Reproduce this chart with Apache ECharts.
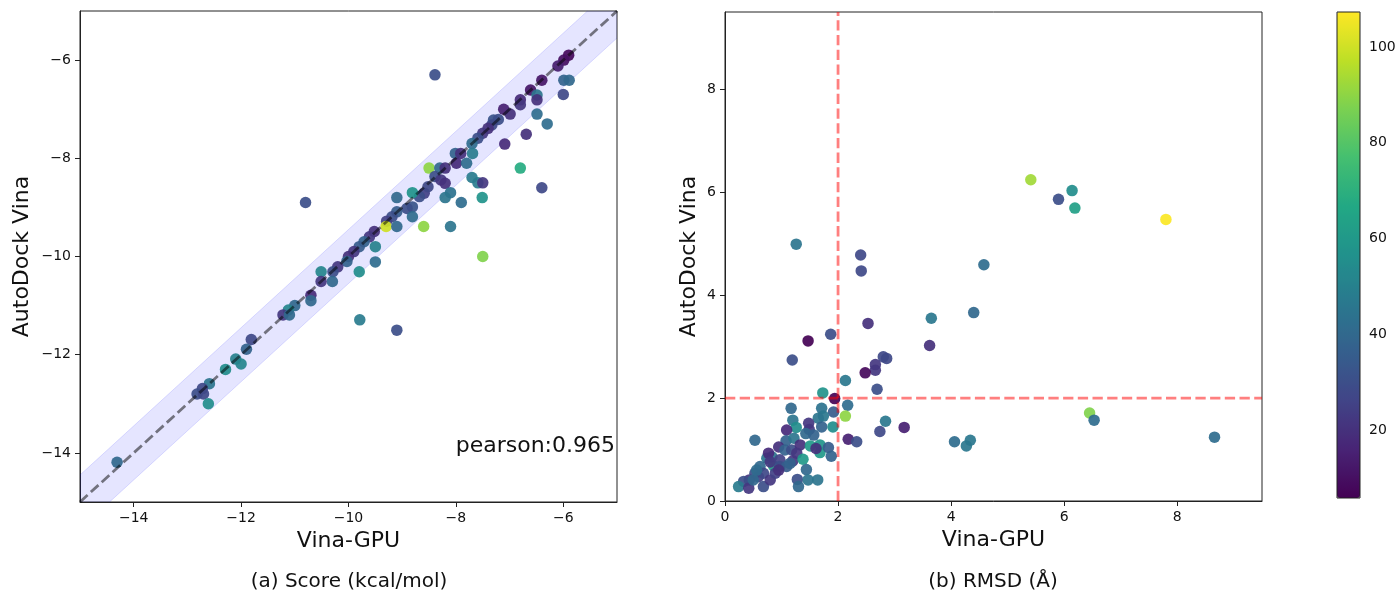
<!DOCTYPE html>
<html><head><meta charset="utf-8">
<script src="https://cdn.jsdelivr.net/npm/echarts@6/dist/echarts.min.js"></script>
<style>html,body{margin:0;padding:0;background:#fff}#c{width:1400px;height:596px}</style>
</head><body><div id="c"></div>
<script>
// ---- Data: (a) Score (kcal/mol) ----
const scoreVinaGPU = [-5.90,-5.99,-6.10,-5.99,-5.89,-6.00,-6.40,-6.61,-6.49,-6.49,-6.80,-6.80,-6.49,-6.30,-6.69,-7.09,-7.11,-6.99,-7.30,-7.21,-7.33,-7.40,-7.50,-7.59,-7.70,-7.69,-8.01,-7.91,-7.99,-7.80,-8.50,-8.30,-8.20,-8.39,-8.28,-8.20,-7.70,-7.59,-7.50,-6.80,-6.40,-7.51,-8.10,-8.20,-7.90,-8.59,-8.68,-8.52,-8.81,-9.10,-8.81,-8.91,-8.81,-9.10,-9.19,-9.29,-9.30,-9.10,-8.60,-8.10,-10.80,-8.39,-7.50,-9.52,-9.61,-9.50,-9.71,-9.80,-9.90,-10.00,-9.50,-10.03,-9.80,-10.20,-10.29,-10.30,-10.51,-10.51,-10.70,-10.70,-11.00,-11.12,-11.22,-11.10,-9.79,-9.10,-11.81,-11.90,-12.10,-12.00,-12.29,-12.59,-12.72,-12.82,-12.70,-12.61,-14.31];
const scoreAutoDock = [-5.90,-6.00,-6.12,-6.41,-6.41,-6.70,-6.41,-6.61,-6.71,-6.81,-6.81,-6.91,-7.10,-7.30,-7.51,-7.71,-7.00,-7.10,-7.22,-7.21,-7.32,-7.39,-7.49,-7.59,-7.70,-7.90,-7.90,-7.90,-8.10,-8.10,-8.20,-8.20,-8.20,-8.37,-8.44,-8.51,-8.39,-8.50,-8.50,-8.20,-8.60,-8.80,-8.70,-8.80,-8.90,-8.71,-8.78,-8.58,-8.70,-8.80,-8.99,-9.02,-9.19,-9.09,-9.19,-9.28,-9.39,-9.39,-9.39,-9.39,-8.90,-6.30,-10.00,-9.49,-9.60,-9.80,-9.70,-9.80,-9.90,-10.00,-10.11,-10.10,-10.31,-10.21,-10.31,-10.51,-10.31,-10.51,-10.79,-10.90,-11.00,-11.09,-11.19,-11.19,-11.29,-11.50,-11.69,-11.89,-12.09,-12.19,-12.30,-12.59,-12.69,-12.80,-12.80,-13.00,-14.19];
const scoreColor = [8,10,14,38,40,28,12,12,45,20,18,22,42,42,20,18,15,20,32,30,28,20,22,30,42,48,38,20,18,42,90,40,20,30,22,20,48,48,22,68,28,58,44,45,42,25,30,28,58,40,32,30,42,35,30,25,100,40,90,45,30,30,88,20,22,50,38,35,22,20,42,38,55,22,30,40,52,22,18,40,40,52,22,40,48,30,28,38,50,52,55,45,28,30,28,55,40];

// ---- Data: (b) RMSD (Å) ----
const rmsdVinaGPU = [1.26,2.40,2.41,4.58,3.65,4.40,2.53,1.47,1.87,3.62,1.19,2.80,2.86,2.66,2.66,2.48,2.69,2.13,1.73,1.94,2.17,2.13,1.92,1.17,1.71,1.74,1.65,1.20,1.26,1.09,1.48,1.49,1.43,1.57,1.71,1.91,2.18,2.33,2.84,2.74,3.17,4.06,4.27,4.34,0.53,1.08,1.22,0.95,1.06,1.18,1.33,1.27,1.20,1.38,1.51,1.68,1.68,1.83,1.88,1.61,1.44,1.28,1.30,1.47,1.64,0.74,0.86,0.83,0.77,0.80,0.97,0.97,1.09,1.15,0.62,0.53,0.59,0.68,0.43,0.33,0.24,0.42,0.68,0.80,0.89,0.95,0.50,0.56,5.41,5.90,6.14,6.19,7.80,6.45,6.53,8.66];
const rmsdAutoDock = [4.99,4.78,4.47,4.59,3.55,3.66,3.45,3.11,3.24,3.02,2.74,2.80,2.77,2.65,2.54,2.49,2.17,2.34,2.10,1.99,1.86,1.65,1.73,1.80,1.80,1.65,1.61,1.57,1.43,1.38,1.51,1.39,1.31,1.28,1.44,1.44,1.20,1.15,1.55,1.35,1.43,1.15,1.07,1.18,1.18,1.17,1.22,1.05,0.99,0.99,1.09,0.93,0.78,0.81,1.07,1.09,0.94,1.04,0.87,1.02,0.61,0.42,0.28,0.41,0.41,0.83,0.68,0.86,0.93,0.76,0.80,0.67,0.67,0.73,0.67,0.54,0.47,0.54,0.41,0.38,0.28,0.25,0.28,0.41,0.54,0.60,0.41,0.60,6.24,5.86,6.03,5.69,5.47,1.71,1.57,1.24];
const rmsdColor = [45,28,28,42,46,40,20,6,30,20,30,28,28,22,22,8,30,46,58,6,42,90,35,40,44,46,45,45,55,18,22,22,40,38,38,55,15,30,46,28,15,42,46,46,40,38,45,20,38,30,20,22,22,60,60,58,60,35,38,20,40,30,40,45,45,45,62,45,18,22,25,30,35,38,40,30,25,28,22,30,48,22,30,22,25,20,40,42,93,30,55,63,107,88,42,42];

// ---- Axes / reference values ----
const scoreRange = [-15, -5];
const scoreTicks = [-14, -12, -10, -8, -6];
const rmsdRange = [0, 9.5];
const rmsdTicks = [0, 2, 4, 6, 8];
const colorRange = [5.8, 107.3];
const colorbarTicks = [20, 40, 60, 80, 100];
const bandHalfWidth = 0.55;
const rmsdThreshold = 2;
const pearsonText = 'pearson:0.965';
const viridis = ['#440154','#482475','#414487','#355f8d','#2a788e','#21918c','#22a884','#44bf70','#7ad151','#bddf26','#fde725'];

const FONT = 'DejaVu Sans';
const DASH = [10.3, 4.4];
const minus = v => String(v).replace('-', '\u2212');
const zip3 = (a, b, c) => a.map((v, i) => [v, b[i], c[i]]);

function valueAxis(gridIndex, range, ticks, extra) {
  return Object.assign({
    type: 'value', gridIndex, min: range[0], max: range[1],
    axisLine: { show: true, onZero: false, lineStyle: { color: '#222', width: 1 } },
    axisTick: { show: true, inside: false, length: 5, customValues: ticks, lineStyle: { color: '#222', width: 1 } },
    axisLabel: { show: true, customValues: ticks, margin: 9, color: '#111', fontFamily: FONT, fontSize: 14, formatter: minus },
    splitLine: { show: false },
    nameLocation: 'middle',
    nameTextStyle: { fontFamily: FONT, fontSize: 22, color: '#111' }
  }, extra || {});
}

// band |y - x| <= h inside the square plot range (data coordinates)
const lo = scoreRange[0], hi = scoreRange[1], h = bandHalfWidth;
const bandPolygon = [[lo, lo], [lo, lo + h], [hi - h, hi], [hi, hi], [hi, hi - h], [lo + h, lo]];
const bandUpper = [[lo, lo + h], [hi - h, hi]];
const bandLower = [[lo + h, lo], [hi, hi - h]];

const chart = echarts.init(document.getElementById('c'), null, { renderer: 'canvas' });
chart.setOption({
  animation: false,
  backgroundColor: '#fff',
  grid: [
    { left: 80, top: 11, width: 537, height: 491, show: true, borderColor: '#222', borderWidth: 1, backgroundColor: 'transparent' },
    { left: 725, top: 12, width: 537, height: 489, show: true, borderColor: '#222', borderWidth: 1, backgroundColor: 'transparent' },
    { left: 1337, top: 12, width: 23, height: 486, show: true, borderColor: '#222', borderWidth: 1, backgroundColor: 'transparent', z: 10 }
  ],
  xAxis: [
    valueAxis(0, scoreRange, scoreTicks, { name: 'Vina-GPU', nameGap: 27 }),
    valueAxis(1, rmsdRange, rmsdTicks, { name: 'Vina-GPU', nameGap: 27 }),
    { type: 'value', gridIndex: 2, min: 0, max: 1, show: false }
  ],
  yAxis: [
    valueAxis(0, scoreRange, scoreTicks, { name: 'AutoDock Vina', nameGap: 47 }),
    valueAxis(1, rmsdRange, rmsdTicks, { name: 'AutoDock Vina', nameGap: 25 }),
    valueAxis(2, colorRange, colorbarTicks, { position: 'right', axisLine: { show: false } })
  ],
  visualMap: {
    type: 'continuous', min: colorRange[0], max: colorRange[1], dimension: 2,
    seriesIndex: [1, 3], calculable: false, orient: 'vertical',
    left: 1337, top: 12, itemWidth: 23, itemHeight: 486, padding: 0,
    text: null, showLabel: false, hoverLink: false,
    inRange: { color: viridis }
  },
  series: [
    { type: 'custom', xAxisIndex: 0, yAxisIndex: 0, silent: true, data: [[lo, lo]],
      renderItem: (params, api) => ({
        type: 'group',
        children: [
          { type: 'polygon', shape: { points: bandPolygon.map(p => api.coord(p)) },
            style: { fill: 'rgba(0,0,255,0.1)', stroke: null } },
          { type: 'polyline', shape: { points: bandUpper.map(p => api.coord(p)) },
            style: { fill: null, stroke: 'rgba(0,0,255,0.12)', lineWidth: 1 } },
          { type: 'polyline', shape: { points: bandLower.map(p => api.coord(p)) },
            style: { fill: null, stroke: 'rgba(0,0,255,0.12)', lineWidth: 1 } }
        ]
      }) },
    { type: 'scatter', xAxisIndex: 0, yAxisIndex: 0, symbolSize: 11.5,
      data: zip3(scoreVinaGPU, scoreAutoDock, scoreColor), itemStyle: { opacity: 0.92 } },
    { type: 'line', xAxisIndex: 0, yAxisIndex: 0, symbol: 'none', silent: true,
      data: scoreRange.map(v => [v, v]),
      lineStyle: { color: 'rgba(0,0,0,0.5)', width: 2.8, type: DASH } },
    { type: 'scatter', xAxisIndex: 1, yAxisIndex: 1, symbolSize: 11.5,
      data: zip3(rmsdVinaGPU, rmsdAutoDock, rmsdColor), itemStyle: { opacity: 0.92 } },
    { type: 'line', xAxisIndex: 1, yAxisIndex: 1, symbol: 'none', silent: true,
      data: rmsdRange.map(v => [rmsdThreshold, v]),
      lineStyle: { color: 'rgba(255,0,0,0.5)', width: 2.8, type: DASH } },
    { type: 'line', xAxisIndex: 1, yAxisIndex: 1, symbol: 'none', silent: true,
      data: rmsdRange.map(v => [v, rmsdThreshold]),
      lineStyle: { color: 'rgba(255,0,0,0.5)', width: 2.8, type: DASH } }
  ],
  graphic: [
    { type: 'text', x: 615, y: 446, z: 100,
      style: { text: pearsonText, fontFamily: FONT, fontSize: 22, fill: '#111', align: 'right', verticalAlign: 'middle', textAlign: 'right', textVerticalAlign: 'middle' } },
    { type: 'text', x: 349, y: 582,
      style: { text: '(a) Score (kcal/mol)', fontFamily: FONT, fontSize: 20, fill: '#111', align: 'center', verticalAlign: 'middle', textAlign: 'center', textVerticalAlign: 'middle' } },
    { type: 'text', x: 993, y: 582,
      style: { text: '(b) RMSD (Å)', fontFamily: FONT, fontSize: 20, fill: '#111', align: 'center', verticalAlign: 'middle', textAlign: 'center', textVerticalAlign: 'middle' } }
  ]
});
</script></body></html>
